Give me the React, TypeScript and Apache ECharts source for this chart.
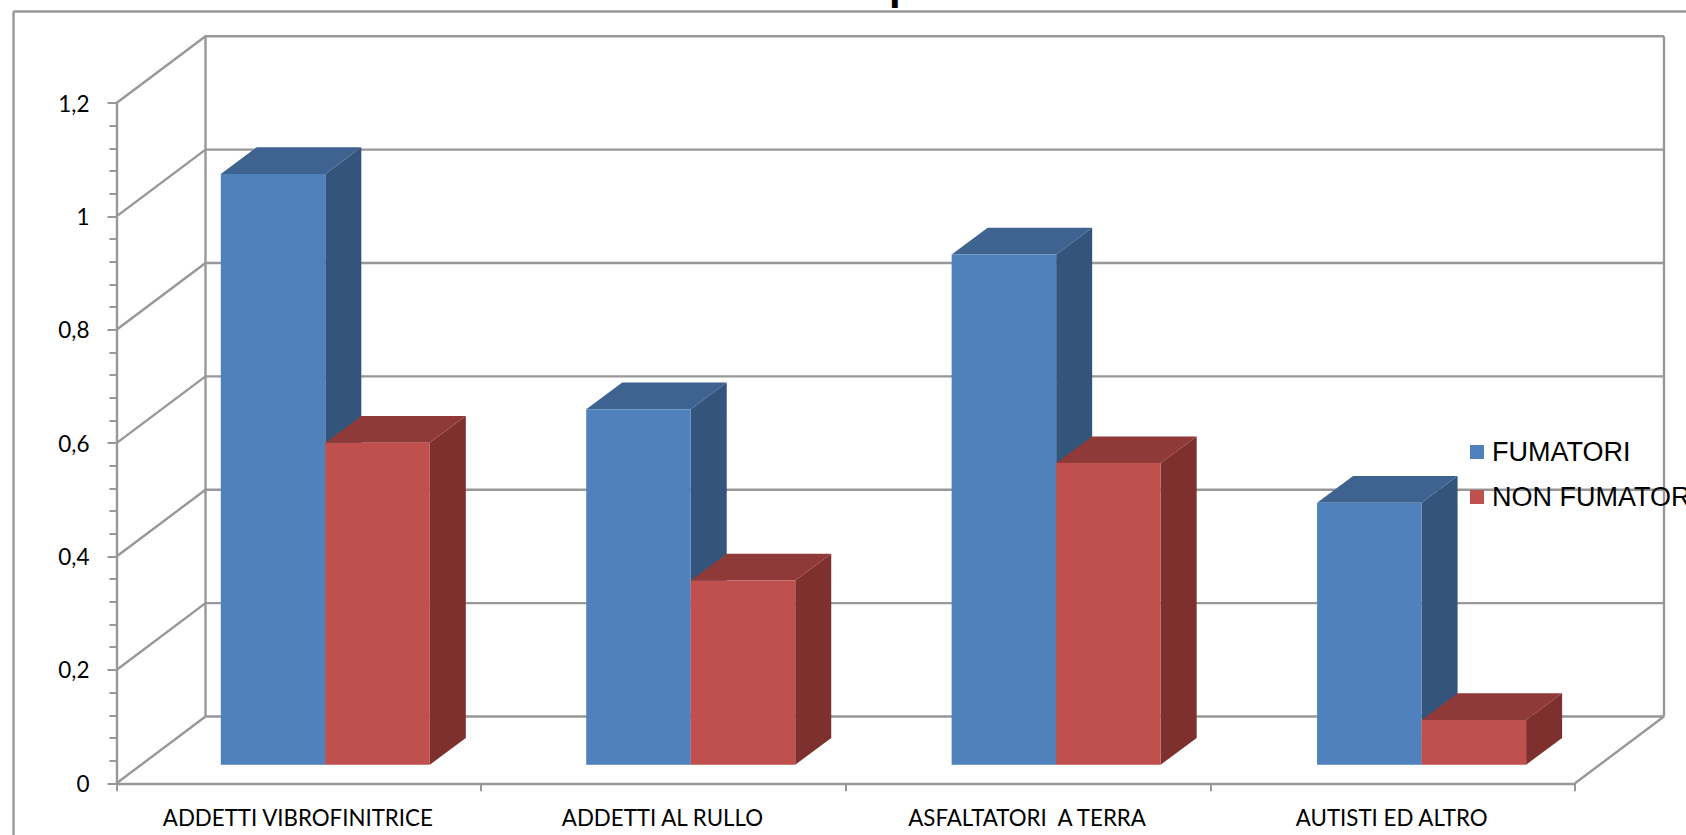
import React, { useEffect, useRef } from "react";
import * as echarts from "echarts";

const categories = ["ADDETTI VIBROFINITRICE", "ADDETTI AL RULLO", "ASFALTATORI  A TERRA", "AUTISTI ED ALTRO"];
const fumatori = [1.042, 0.627, 0.9, 0.462];
const nonFumatori = [0.568, 0.325, 0.532, 0.079];
const yTicks = [0, 0.2, 0.4, 0.6, 0.8, 1, 1.2];
const titleVisible = "p";

const LINE = "#989898";
const WALL_DX = 89;
const WALL_DY = -66.8;
const BAR_PLANE_DX = 26.5;
const BAR_PLANE_STEP = 0.8;
const BAR_PLANE_DY = -18.6;
const BAR_DX = 36;
const BAR_DY = -26.7;
const BAR_RATIO = 104.5 / 364.6;

const lineStyle = { stroke: LINE, lineWidth: 2.4, fill: "none" };

function renderWall(params: any, api: any) {
  const cs = params.coordSys;
  const v = api.value(1);
  const y = api.coord([0, v])[1];
  const x0 = cs.x;
  const x1 = cs.x + cs.width;
  const children: any[] = [
    {
      type: "polyline",
      shape: { points: [[x0, y], [x0 + WALL_DX, y + WALL_DY], [x1 + WALL_DX, y + WALL_DY]] },
      style: lineStyle,
    },
  ];
  if (v === 0) {
    const topY = cs.y + WALL_DY;
    children.push(
      { type: "line", shape: { x1: x0 + WALL_DX, y1: y + WALL_DY, x2: x0 + WALL_DX, y2: topY }, style: lineStyle },
      { type: "line", shape: { x1: x1 + WALL_DX, y1: y + WALL_DY, x2: x1 + WALL_DX, y2: topY }, style: lineStyle },
      { type: "line", shape: { x1, y1: y, x2: x1 + WALL_DX, y2: y + WALL_DY }, style: lineStyle }
    );
  }
  return { type: "group", children };
}

function makeBar(side: number, front: string, top: string, right: string) {
  return (_params: any, api: any) => {
    const idx = api.value(0);
    const val = api.value(1);
    const t = api.coord([idx, val]);
    const b = api.coord([idx, 0]);
    const w = api.size([1, 0])[0] * BAR_RATIO;
    const xl = t[0] + BAR_PLANE_DX + idx * BAR_PLANE_STEP + (side === 0 ? -w : 0);
    const xr = xl + w;
    const yt = t[1] + BAR_PLANE_DY;
    const yb = b[1] + BAR_PLANE_DY;
    return {
      type: "group",
      children: [
        { type: "polygon", shape: { points: [[xr, yt], [xr + BAR_DX, yt + BAR_DY], [xr + BAR_DX, yb + BAR_DY], [xr, yb]] }, style: { fill: right } },
        { type: "polygon", shape: { points: [[xl, yt], [xl + BAR_DX, yt + BAR_DY], [xr + BAR_DX, yt + BAR_DY], [xr, yt]] }, style: { fill: top } },
        { type: "rect", shape: { x: xl, y: yt, width: w, height: yb - yt }, style: { fill: front } },
      ],
    };
  };
}

export default function App() {
  const ref = useRef<HTMLDivElement>(null);
  useEffect(() => {
    const chart = echarts.init(ref.current!, undefined, { renderer: "svg" });
    chart.setOption({
      animation: false,
      backgroundColor: "#ffffff",
      title: {
        text: titleVisible,
        left: 889,
        top: -36.3,
        padding: 0,
        textStyle: { fontFamily: "Liberation Sans", fontWeight: "bold", fontSize: 42, color: "#000" },
      },
      grid: { left: 116.5, right: 111, top: 103, bottom: 51.7, containLabel: false },
      legend: {
        orient: "vertical",
        left: 1470,
        top: 437,
        padding: 0,
        itemWidth: 14,
        itemHeight: 14,
        itemGap: 15,
        icon: "rect",
        data: ["FUMATORI", "NON FUMATORI"],
        textStyle: { fontFamily: "Liberation Sans", fontSize: 27, color: "#000", lineHeight: 30, padding: [0, 0, 0, 3] },
      },
      xAxis: {
        type: "category",
        data: categories,
        boundaryGap: true,
        axisLine: { lineStyle: { color: LINE, width: 2.4 } },
        axisTick: { show: true, length: 8, lineStyle: { color: LINE, width: 2 } },
        axisLabel: { color: "#000", fontFamily: "Lato", fontSize: 22.3, margin: 23, interval: 0, padding: [0, 2, 0, 0] },
      },
      yAxis: {
        type: "value",
        min: 0,
        max: 1.2,
        interval: 0.2,
        splitLine: { show: false },
        axisLine: { show: true, lineStyle: { color: LINE, width: 2.4 } },
        axisTick: { show: true, length: 9, lineStyle: { color: LINE, width: 2 } },
        minorTick: { show: true, splitNumber: 5, length: 7, lineStyle: { color: LINE, width: 2 } },
        axisLabel: {
          color: "#000",
          fontFamily: "Lato",
          fontSize: 22.5,
          margin: 27,
          padding: [3, 0, 0, 0],
          formatter: (v: number) => String(v).replace(".", ","),
        },
      },
      series: [
        {
          type: "custom",
          name: "pareti",
          silent: true,
          renderItem: renderWall,
          encode: { x: 0, y: 1 },
          data: yTicks.map((v) => [0, v]),
          z: 1,
        },
        {
          type: "custom",
          name: "FUMATORI",
          renderItem: makeBar(0, "#4F81BD", "#3E6391", "#33547B"),
          encode: { x: 0, y: 1 },
          itemStyle: { color: "#4F81BD" },
          data: fumatori.map((v, i) => [i, v]),
          z: 2,
        },
        {
          type: "custom",
          name: "NON FUMATORI",
          renderItem: makeBar(1, "#C0504D", "#8F3A38", "#7D302E"),
          encode: { x: 0, y: 1 },
          itemStyle: { color: "#C0504D" },
          data: nonFumatori.map((v, i) => [i, v]),
          z: 3,
        },
      ],
      graphic: [
        { type: "line", shape: { x1: 13.5, y1: 11.5, x2: 1686, y2: 11.5 }, style: { stroke: LINE, lineWidth: 2.4 }, silent: true, z: 0 },
        { type: "line", shape: { x1: 13.5, y1: 11.5, x2: 13.5, y2: 835 }, style: { stroke: LINE, lineWidth: 2.4 }, silent: true, z: 0 },
      ],
    });
    return () => chart.dispose();
  }, []);
  return <div ref={ref} style={{ position: "fixed", left: 0, top: 0, width: 1686, height: 835 }} />;
}
